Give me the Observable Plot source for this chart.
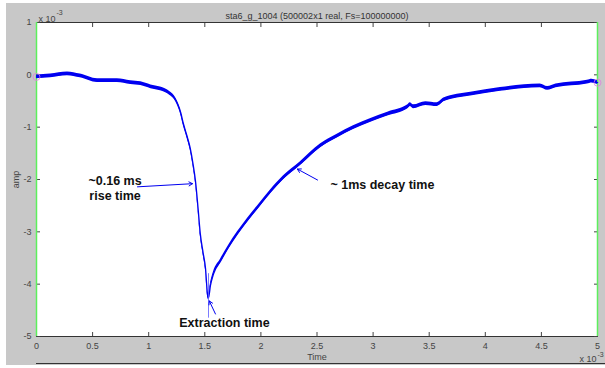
<!DOCTYPE html>
<html>
<head>
<meta charset="utf-8">
<script src="https://cdn.jsdelivr.net/npm/d3@7"></script>
<script src="https://cdn.jsdelivr.net/npm/@observablehq/plot@0.6"></script>
<style>
  html, body { margin: 0; padding: 0; background: #ffffff; }
  #wrap { position: relative; width: 605px; height: 368px; overflow: hidden; }
  #bg { position: absolute; left: 6px; top: 3px; width: 599px; height: 362px; background: #c8c8c8; }
  #lower { position: absolute; left: 36px; top: 363px; width: 569px; height: 0; border-top: 1.5px solid #333; }
  #chart { position: absolute; left: 0; top: 0; }
  #chart svg { background: transparent; font-family: "Liberation Sans", Arial, sans-serif; }
</style>
</head>
<body>
<div id="wrap"><div id="bg"></div><div id="lower"></div><div id="chart"></div></div>
<script>
// Time (x 1e-3 s) and amplitude (x 1e-3)
const time = [0, 0.125, 0.276, 0.39, 0.544, 0.72, 0.84, 0.93, 1.02, 1.105, 1.19, 1.23, 1.257, 1.285, 1.31, 1.34, 1.37, 1.395, 1.417, 1.44, 1.46, 1.485, 1.506, 1.524, 1.533,
  1.55, 1.578, 1.64, 1.71, 1.79, 1.88, 1.97, 2.08, 2.20, 2.35, 2.53, 2.68, 2.825, 2.98, 3.13, 3.31, 3.33, 3.36, 3.47, 3.57, 3.63, 3.87, 4.135, 4.49, 4.555, 4.63, 4.91, 4.95, 5.0];
const amp = [-0.04, -0.02, 0.02, -0.02, -0.11, -0.11, -0.15, -0.17, -0.23, -0.27, -0.36, -0.44, -0.55, -0.72, -0.94, -1.16, -1.40, -1.70, -2.03, -2.55, -3.04, -3.40, -3.69, -4.19, -4.26,
  -4.03, -3.80, -3.56, -3.30, -3.04, -2.78, -2.54, -2.25, -1.97, -1.70, -1.36, -1.17, -1.01, -0.87, -0.75, -0.61, -0.57, -0.61, -0.55, -0.57, -0.48, -0.37, -0.28, -0.21, -0.26, -0.21, -0.14, -0.12, -0.15];
const noise = 0.036;

const xTicks = [0, 0.5, 1, 1.5, 2, 2.5, 3, 3.5, 4, 4.5, 5];
const yTicks = [-5, -4, -3, -2, -1, 0, 1];

const titleText = "sta6_g_1004 (500002x1 real, Fs=100000000)";

// annotations
const arrowX1 = [0.90, 2.505, 1.595];
const arrowY1 = [-2.14, -2.01, -4.57];
const arrowX2 = [1.39, 2.325, 1.54];
const arrowY2 = [-2.08, -1.80, -4.32];
const riseText = ["~0.16 ms", "rise time"];
const riseX = [0.70, 0.70];
const riseY = [-2.03, -2.31];
const decayText = ["~ 1ms decay time"];
const decayX = [2.62];
const decayY = [-2.10];
const extractText = ["Extraction time"];
const extractX = [1.675];
const extractY = [-4.74];

const trace = time.map((t, i) => ({t, a: amp[i]}));
const arrows = arrowX1.map((x, i) => ({x1: x, y1: arrowY1[i], x2: arrowX2[i], y2: arrowY2[i]}));
const riseNotes = riseText.map((s, i) => ({s, x: riseX[i], y: riseY[i]}));
const decayNotes = decayText.map((s, i) => ({s, x: decayX[i], y: decayY[i]}));
const extractNotes = extractText.map((s, i) => ({s, x: extractX[i], y: extractY[i]}));
const cursors = [trace[0], trace[trace.length - 1]];

const tickFmt = d => String(d);
const noteStyle = {x: "x", y: "y", text: "s", fontSize: 12.5, fontWeight: "bold", fill: "#111"};

const plot = Plot.plot({
  width: 605,
  height: 368,
  marginLeft: 36,
  marginRight: 8,
  marginTop: 22,
  marginBottom: 32,
  style: {background: "transparent", fontFamily: "Liberation Sans, Arial, sans-serif"},
  x: {domain: [0, 5]},
  y: {domain: [-5, 1]},
  marks: [
    Plot.frame({fill: "white", stroke: "#333", strokeWidth: 1}),
    Plot.axisX({anchor: "bottom", ticks: xTicks, tickSize: -4, tickPadding: 10, tickFormat: tickFmt, fontSize: 9, color: "#444", label: "Time", labelAnchor: "center", labelArrow: "none", labelOffset: 23}),
    Plot.axisX({anchor: "top", ticks: xTicks, tickSize: -4, tickFormat: () => "", label: null, color: "#444"}),
    Plot.axisY({anchor: "left", ticks: yTicks, tickSize: -4, tickPadding: 9, tickFormat: tickFmt, fontSize: 9, color: "#444", label: "amp", labelAnchor: "center", labelArrow: "none", labelOffset: 24}),
    Plot.axisY({anchor: "right", ticks: yTicks, tickSize: -4, tickFormat: () => "", label: null, color: "#444"}),
    Plot.ruleX([0, 5], {stroke: "#5cf05c", strokeWidth: 1.5}),
    Plot.areaY(trace, {x: "t", y1: d => d.a - noise, y2: d => d.a + noise, fill: "#0000f0", curve: "monotone-x"}),
    Plot.lineY(trace, {x: "t", y: "a", stroke: "#0000f0", strokeWidth: 1.3, curve: "monotone-x"}),
    Plot.ruleX([time[24]], {y1: amp[26], y2: -4.65, stroke: "#5a5aff", strokeWidth: 0.8}),
    Plot.dot(cursors, {x: "t", y: "a", r: 3.5, stroke: "#e080e0", strokeWidth: 0.8}),
    Plot.arrow(arrows, {x1: "x1", y1: "y1", x2: "x2", y2: "y2", stroke: "#0000f0", strokeWidth: 1, headLength: 6}),
    Plot.text(riseNotes, {...noteStyle, textAnchor: "middle"}),
    Plot.text(decayNotes, {...noteStyle, textAnchor: "start"}),
    Plot.text(extractNotes, {...noteStyle, textAnchor: "middle"}),
    Plot.text([titleText], {frameAnchor: "top", dy: -10, fontSize: 9, fill: "#333"}),
    Plot.text(["x 10"], {frameAnchor: "top-left", dx: 2, dy: -7, fontSize: 9, fill: "#444", textAnchor: "start"}),
    Plot.text(["-3"], {frameAnchor: "top-left", dx: 20, dy: -12, fontSize: 7, fill: "#444", textAnchor: "start"}),
    Plot.text(["x 10"], {frameAnchor: "bottom-right", dx: -18, dy: 25, fontSize: 9, fill: "#444", textAnchor: "start"}),
    Plot.text(["-3"], {frameAnchor: "bottom-right", dx: 0, dy: 20, fontSize: 7, fill: "#444", textAnchor: "start"})
  ]
});
document.getElementById("chart").appendChild(plot);
</script>
</body>
</html>
